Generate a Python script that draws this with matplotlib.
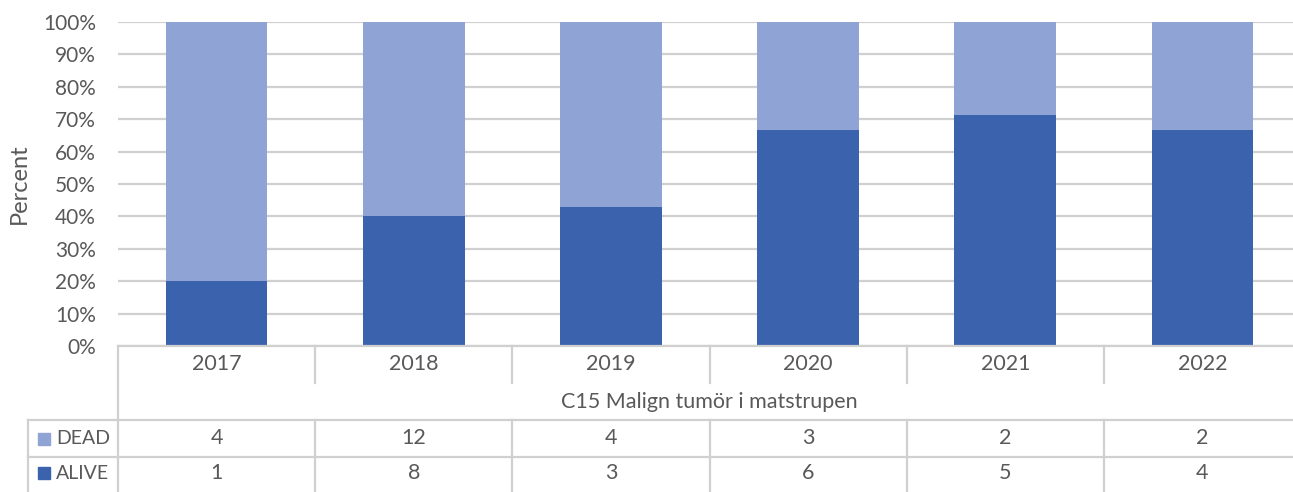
import matplotlib.pyplot as plt
import numpy as np
from matplotlib.lines import Line2D

plt.rcParams["font.family"] = ["Lato", "DejaVu Sans"]

years = ["2017", "2018", "2019", "2020", "2021", "2022"]
dead = [4, 12, 4, 3, 2, 2]
alive = [1, 8, 3, 6, 5, 4]
category = "C15 Malign tumör i matstrupen"
y_label = "Percent"

C_ALIVE = "#3b63ad"
C_DEAD = "#8fa4d4"
TXT = "#595959"
LINE = "#d0d0d0"
FS = 15.5

W, H = 1293, 492
fig = plt.figure(figsize=(W / 100, H / 100), dpi=100)
# plot area runs a little past the right edge, as in the reference
ax = fig.add_axes([118 / W, 1 - 346 / H, (1301 - 118) / W, (346 - 22) / H])

dead = np.array(dead, dtype=float)
alive = np.array(alive, dtype=float)
tot = dead + alive
alive_pct = alive / tot * 100
dead_pct = dead / tot * 100

x = np.arange(len(years))
ax.bar(x, alive_pct, 0.515, color=C_ALIVE, zorder=3)
ax.bar(x, dead_pct, 0.515, bottom=alive_pct, color=C_DEAD, zorder=3)

ax.set_xlim(-0.5, len(years) - 0.5)
ax.set_ylim(0, 100)
ax.set_yticks(np.arange(0, 101, 10))
ax.set_yticklabels([f"{v}%" for v in range(0, 101, 10)], fontsize=15, color=TXT)
ax.tick_params(axis="y", length=0, pad=16)
ax.set_xticks([])
ax.grid(axis="y", color=LINE, lw=1.6, zorder=0)
for s in ax.spines.values():
    s.set_visible(False)
ax.set_ylabel(y_label, fontsize=17, color=TXT, labelpad=9)

# data table below the plot, in axes fraction
ah = 346 - 22
aw = 1301 - 118
r1, r2, r3, r4 = -37 / ah, -74 / ah, -111 / ah, -150 / ah
xl = (28 - 118) / aw
n = len(years)


def line(xs, ys):
    ax.add_line(Line2D(xs, ys, transform=ax.transAxes, color=LINE, lw=1.6,
                       clip_on=False, zorder=4))


line([0, 1], [0, 0])
line([0, 0], [0, r4])
for i in range(1, n):
    line([i / n, i / n], [0, r1])
    line([i / n, i / n], [r2, r4])
line([xl, 1], [r2, r2])
line([xl, 1], [r3, r3])
line([xl, xl], [r2, r4])

for i, yr in enumerate(years):
    ax.text((i + 0.5) / n, r1 / 2, yr, transform=ax.transAxes, ha="center",
            va="center", fontsize=FS, color=TXT)
    ax.text((i + 0.5) / n, (r2 + r3) / 2, f"{int(dead[i])}", transform=ax.transAxes,
            ha="center", va="center", fontsize=FS, color=TXT)
    ax.text((i + 0.5) / n, (r3 + r4) / 2 + 0.01, f"{int(alive[i])}", transform=ax.transAxes,
            ha="center", va="center", fontsize=FS, color=TXT)
ax.text(0.5, (r1 + r2) / 2, category, transform=ax.transAxes, ha="center",
        va="center", fontsize=FS, color=TXT)

for name, col, yy in [("DEAD", C_DEAD, (r2 + r3) / 2), ("ALIVE", C_ALIVE, (r3 + r4) / 2 + 0.01)]:
    ax.plot([(44 - 118) / aw], [yy], marker="s", ms=9, color=col,
            transform=ax.transAxes, clip_on=False)
    ax.text((56 - 118) / aw, yy, name, transform=ax.transAxes, ha="left",
            va="center", fontsize=14, color=TXT)

fig.savefig("out.png", dpi=100)
